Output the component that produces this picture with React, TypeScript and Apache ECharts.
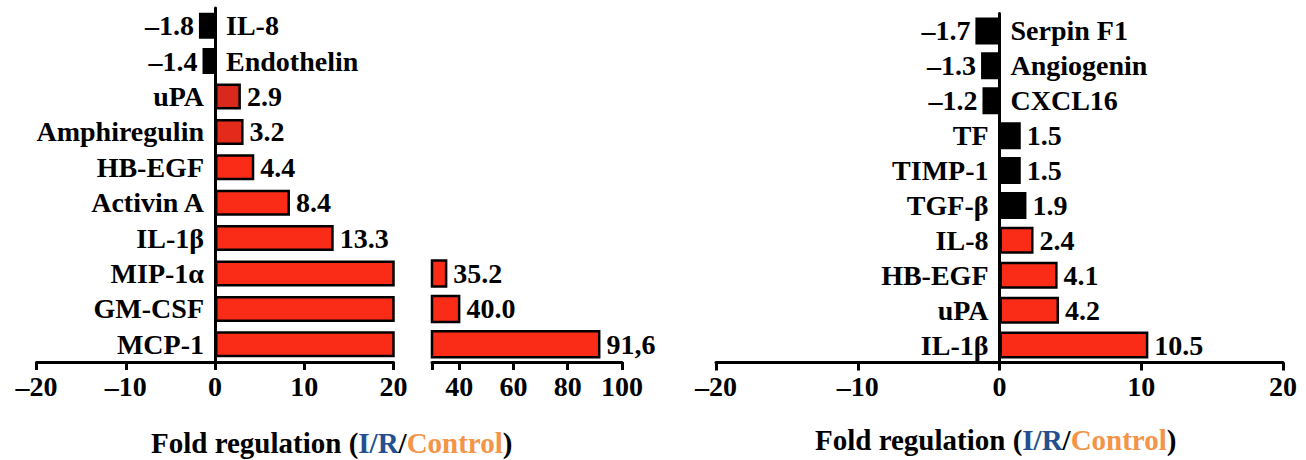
import React, { useEffect, useRef } from 'react';
import * as echarts from 'echarts';

// ---------- data ----------
const leftCategories = ['IL-8', 'Endothelin', 'uPA', 'Amphiregulin', 'HB-EGF', 'Activin A', 'IL-1β', 'MIP-1α', 'GM-CSF', 'MCP-1'];
const leftValues = [-1.8, -1.4, 2.9, 3.2, 4.4, 8.4, 13.3, 35.2, 40.0, 91.6];
const leftValueLabels = ['–1.8', '–1.4', '2.9', '3.2', '4.4', '8.4', '13.3', '35.2', '40.0', '91,6'];
const leftAxisMin = -20;
const leftAxisMax = 20;
const leftBreakStart = 30;
const leftBreakEnd = 100;
const leftBreakLabelTicks = [40, 60, 80, 100];
const leftBreakTicks = [30, 40, 60, 80, 100];

const rightCategories = ['Serpin F1', 'Angiogenin', 'CXCL16', 'TF', 'TIMP-1', 'TGF-β', 'IL-8', 'HB-EGF', 'uPA', 'IL-1β'];
const rightValues = [-1.7, -1.3, -1.2, 1.5, 1.5, 1.9, 2.4, 4.1, 4.2, 10.5];
const rightValueLabels = ['–1.7', '–1.3', '–1.2', '1.5', '1.5', '1.9', '2.4', '4.1', '4.2', '10.5'];
const rightBlackCategories = ['Serpin F1', 'Angiogenin', 'CXCL16', 'TF', 'TIMP-1', 'TGF-β'];
const rightAxisMin = -20;
const rightAxisMax = 20;

// ---------- styles ----------
const RED = '#fb2c17';
const BLACK = '#000000';
const leftColorOverrides: Record<string, string> = { uPA: '#d8291c', Amphiregulin: '#e42a1b' };
const FONT = "'Liberation Serif', 'Times New Roman', serif";
const textStyle = { fontFamily: FONT, fontWeight: 'bold' as const, fontSize: 28, color: '#000' };

const tickFmt = (v: number) => (v < 0 ? '–' + Math.abs(v) : String(v));

const axisLineStyle = { color: '#000', width: 3 };

function leftColor(i: number) {
  if (leftValues[i] < 0) return BLACK;
  return leftColorOverrides[leftCategories[i]] || RED;
}
function rightColor(i: number) {
  return rightBlackCategories.includes(rightCategories[i]) ? BLACK : RED;
}

function buildOption(): any {
  const breakRows = leftValues.map((v, i) => i).filter((i) => leftValues[i] > leftAxisMax);

  const valueAxisBase = (gridIndex: number) => ({
    gridIndex,
    type: 'value',
    splitLine: { show: false },
    axisLine: { show: true, onZero: false, lineStyle: axisLineStyle },
    axisTick: { show: true, length: 8, lineStyle: axisLineStyle },
    axisLabel: { ...textStyle, margin: 10, formatter: tickFmt },
  });

  const valueSeries = (
    xi: number,
    cats: string[],
    vals: number[],
    labels: string[],
    colorFn: (i: number) => string,
    maxShown: number,
    barWidth: number,
  ) => ({
    type: 'bar',
    xAxisIndex: xi,
    yAxisIndex: xi,
    barWidth,
    barGap: '-100%',
    clip: true,
    silent: true,
    itemStyle: { borderColor: '#000', borderWidth: 2.5 },
    data: vals.map((v, i) => ({
      value: v,
      name: cats[i],
      itemStyle: { color: colorFn(i) },
      label: {
        show: v <= maxShown,
        position: v < 0 ? 'left' : 'right',
        distance: v < 0 ? 5 : 6,
        formatter: labels[i],
        ...textStyle,
      },
    })),
  });

  const nameSeries = (xi: number, cats: string[], vals: number[], barWidth: number) => ({
    type: 'bar',
    xAxisIndex: xi,
    yAxisIndex: xi,
    barWidth,
    barGap: '-100%',
    clip: true,
    silent: true,
    itemStyle: { color: 'rgba(0,0,0,0)', borderWidth: 0 },
    data: vals.map((v, i) => ({
      value: v,
      name: cats[i],
      label: {
        show: true,
        position: v < 0 ? 'right' : 'left',
        distance: 11,
        formatter: cats[i],
        ...textStyle,
      },
    })),
  });

  const titleText = '{k|Fold regulation (}{b|I/R}{k|/}{o|Control}{k|)}';
  const titleRich = {
    k: { fontFamily: FONT, fontWeight: 'bold', fontSize: 29, color: '#000' },
    b: { fontFamily: FONT, fontWeight: 'bold', fontSize: 29, color: '#24508f' },
    o: { fontFamily: FONT, fontWeight: 'bold', fontSize: 29, color: '#f39449' },
  };

  return {
    animation: false,
    backgroundColor: '#ffffff',
    title: [
      { left: 146, top: 423, text: titleText, textStyle: { rich: titleRich } },
      { left: 810, top: 420, text: titleText, textStyle: { rich: titleRich } },
    ],
    grid: [
      { left: 36.5, right: 1306 - 393.5, top: 8, height: 354, outerBoundsMode: 'none' },
      { left: 432, right: 1306 - 622, top: 8, height: 354, outerBoundsMode: 'none' },
      { left: 716, right: 1306 - 1283, top: 13.5, height: 349, outerBoundsMode: 'none' },
    ],
    xAxis: [
      { ...valueAxisBase(0), min: leftAxisMin, max: leftAxisMax, interval: 10 },
      {
        ...valueAxisBase(1),
        min: leftBreakStart,
        max: leftBreakEnd,
        axisTick: { show: true, length: 8, lineStyle: axisLineStyle, customValues: leftBreakTicks },
        axisLabel: { ...textStyle, margin: 10, formatter: tickFmt, customValues: leftBreakLabelTicks },
      },
      { ...valueAxisBase(2), min: rightAxisMin, max: rightAxisMax, interval: 10 },
    ],
    yAxis: [
      {
        gridIndex: 0,
        type: 'category',
        data: leftCategories,
        inverse: true,
        axisLine: { show: true, onZero: true, lineStyle: axisLineStyle },
        axisTick: { show: false },
        axisLabel: { show: false },
        splitLine: { show: false },
      },
      {
        gridIndex: 1,
        type: 'category',
        data: leftCategories,
        inverse: true,
        axisLine: { show: false },
        axisTick: { show: false },
        axisLabel: { show: false },
        splitLine: { show: false },
      },
      {
        gridIndex: 2,
        type: 'category',
        data: rightCategories,
        inverse: true,
        axisLine: { show: true, onZero: true, lineStyle: axisLineStyle },
        axisTick: { show: false },
        axisLabel: { show: false },
        splitLine: { show: false },
      },
    ],
    series: [
      valueSeries(0, leftCategories, leftValues, leftValueLabels, leftColor, leftAxisMax, 26),
      nameSeries(0, leftCategories, leftValues, 26),
      {
        type: 'custom',
        xAxisIndex: 1,
        yAxisIndex: 1,
        silent: true,
        encode: { x: 0, y: 1 },
        data: breakRows.map((i) => [leftValues[i], leftCategories[i]]),
        renderItem: (params: any, api: any) => {
          const idx = api.value(1);
          const start = api.coord([leftBreakStart, idx]);
          const end = api.coord([api.value(0), idx]);
          const h = 26;
          const row = breakRows[params.dataIndex];
          return {
            type: 'rect',
            shape: { x: start[0], y: start[1] - h / 2, width: end[0] - start[0], height: h },
            style: { fill: leftColor(row), stroke: '#000', lineWidth: 2.5 },
            textContent: {
              style: {
                text: leftValueLabels[row],
                fontFamily: FONT,
                fontWeight: 'bold',
                fontSize: 28,
                fill: '#000',
              },
            },
            textConfig: { position: 'right', distance: 6 },
          };
        },
      },
      valueSeries(2, rightCategories, rightValues, rightValueLabels, rightColor, rightAxisMax, 27),
      nameSeries(2, rightCategories, rightValues, 27),
    ],
  };
}

export default function App() {
  const ref = useRef<HTMLDivElement>(null);
  useEffect(() => {
    if (!ref.current) return;
    const chart = echarts.init(ref.current, null, { renderer: 'svg' });
    chart.setOption(buildOption());
    return () => chart.dispose();
  }, []);
  return (
    <div
      ref={ref}
      style={{ position: 'fixed', left: 0, top: 0, width: 1306, height: 460, background: '#fff' }}
    />
  );
}
